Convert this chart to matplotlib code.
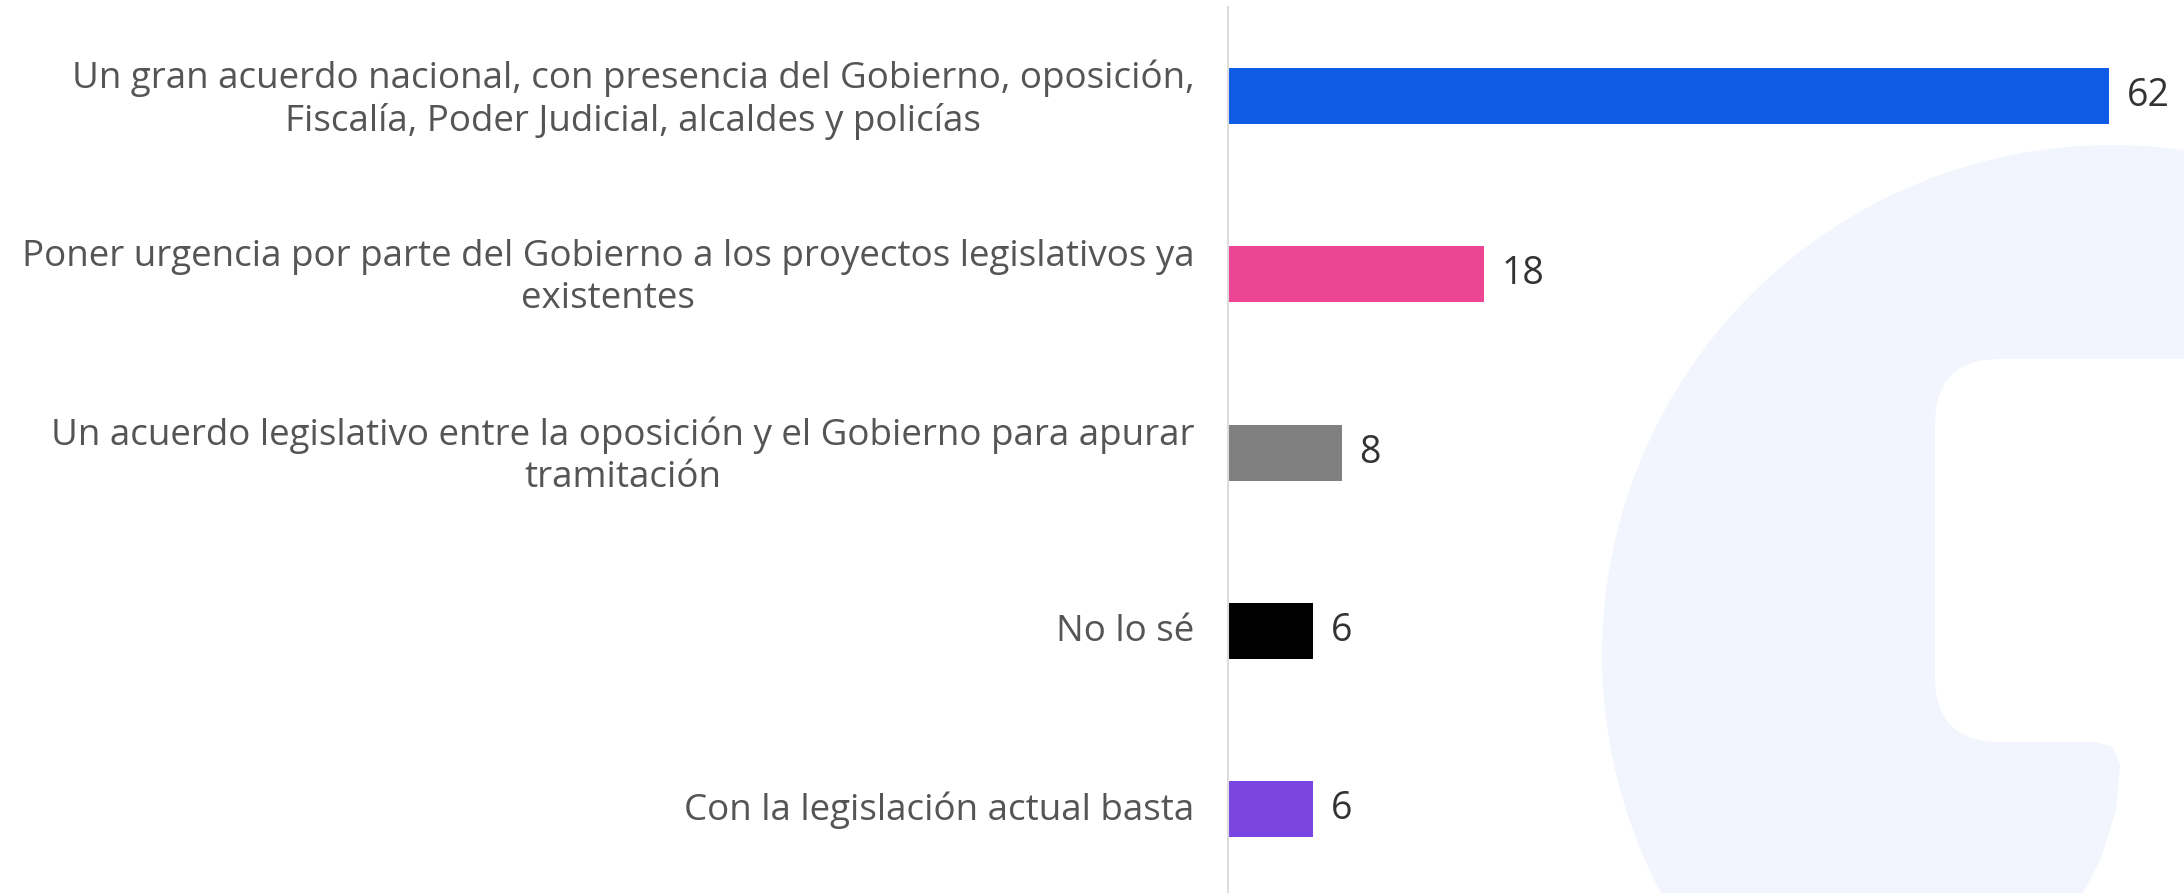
import numpy as np
import matplotlib
matplotlib.use("Agg")
from matplotlib import pyplot as plt
from matplotlib import patches, transforms

plt.rcParams['font.family'] = ['Open Sans', 'DejaVu Sans']

labels = [
    "Un gran acuerdo nacional, con presencia del Gobierno, oposición,\nFiscalía, Poder Judicial, alcaldes y policías",
    "Poner urgencia por parte del Gobierno a los proyectos legislativos ya\nexistentes",
    "Un acuerdo legislativo entre la oposición y el Gobierno para apurar\ntramitación",
    "No lo sé",
    "Con la legislación actual basta",
]
values = [62, 18, 8, 6, 6]
colors = ["#0F5BE5", "#EC4593", "#808080", "#000000", "#7B45E2"]

W, H = 2184, 893
fig = plt.figure(figsize=(W / 100, H / 100), dpi=100)

# faint logo watermark in the background (pixel coords, y from bottom)
px = transforms.IdentityTransform()
light = "#F2F5FD"
fig.patches.append(patches.Circle((2112, H - 655), 510, transform=px,
                                  facecolor=light, edgecolor="none", zorder=-10))
fig.patches.append(patches.FancyBboxPatch((1935, H - 742), 400, 383,
                                          boxstyle="round,pad=0,rounding_size=65",
                                          transform=px, facecolor="white",
                                          edgecolor="none", zorder=-9))
cut = [(2095, 742), (2113, 747), (2120, 765), (2116, 810), (2101, 858), (2083, 893),
       (2184, 893), (2184, 742)]
fig.patches.append(patches.Polygon([(x, H - y) for x, y in cut], closed=True,
                                   transform=px, facecolor="white",
                                   edgecolor="none", zorder=-9))

ax = fig.add_axes([1228 / W, 0, 1 - 1228 / W, 1 - 7 / H])
ax.patch.set_visible(False)

y = np.arange(len(values))
ax.barh(y, values, height=0.314, color=colors)
for yi, v in zip(y, values):
    ax.text(v + 1.25, yi, str(v), va="center", ha="left", fontsize=27, color="#333333")

ax.set_ylim(4.47, -0.5)
ax.set_xlim(0, 67.3)
ax.set_yticks(y - 0.02)
ax.set_yticklabels(labels, fontsize=26.5, color="#555555", multialignment="center",
                   linespacing=1.22)
ax.tick_params(axis="y", length=0, pad=24)
ax.set_xticks([])
for s in ["top", "right", "bottom"]:
    ax.spines[s].set_visible(False)
ax.spines["left"].set_color("#DDDDDD")
ax.spines["left"].set_linewidth(1.5)

fig.savefig("out.png", dpi=100)
